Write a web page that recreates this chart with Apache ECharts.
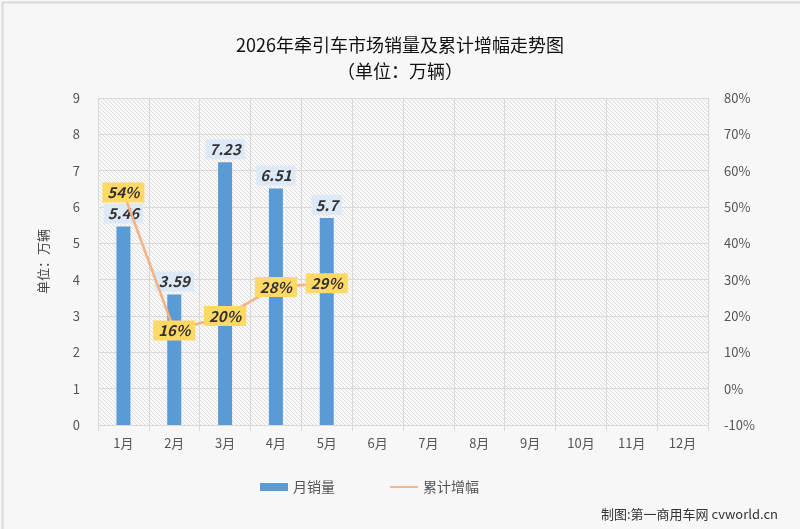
<!DOCTYPE html>
<html>
<head>
<meta charset="utf-8">
<script src="https://cdn.jsdelivr.net/npm/echarts@6/dist/echarts.min.js"></script>
<style>
  html, body { margin: 0; padding: 0; background: #fff; }
  #main { width: 800px; height: 529px; }
</style>
</head>
<body>
<div id="main"></div>
<script>
  const months = ['1月', '2月', '3月', '4月', '5月', '6月', '7月', '8月', '9月', '10月', '11月', '12月']
  const sales = [5.46, 3.59, 7.23, 6.51, 5.7]
  const growth = [54, 16, 20, 28, 29]

  // 斜线底纹
  let pat = document.createElement('canvas')
  pat.width = 4
  pat.height = 4
  let ctx = pat.getContext('2d')
  ctx.fillStyle = '#f9f9f9'
  ctx.fillRect(0, 0, 4, 4)
  ctx.strokeStyle = '#dedede'
  ctx.lineWidth = 1
  ctx.beginPath()
  ctx.moveTo(0, 0); ctx.lineTo(4, 4)
  ctx.moveTo(-2, 2); ctx.lineTo(2, 6)
  ctx.moveTo(2, -2); ctx.lineTo(6, 2)
  ctx.stroke()

  const font = "'Noto Sans CJK SC', 'Open Sans', sans-serif"
  let chart = echarts.init(document.getElementById('main'))
  chart.setOption({
    backgroundColor: '#f7f7f7',
    textStyle: {fontFamily: font},
    title: {
      text: '2026年牵引车市场销量及累计增幅走势图\n（单位：万辆）',
      left: 'center',
      top: 27,
      textStyle: {fontSize: 18, fontWeight: 'normal', color: '#111', lineHeight: 26}
    },
    legend: {
      bottom: 30,
      left: 255,
      itemGap: 55,
      itemWidth: 28,
      itemHeight: 8,
      textStyle: {fontSize: 14, color: '#555'},
      data: [
        {name: '月销量', icon: 'rect'},
        {name: '累计增幅', icon: 'path://M0,0 L30,0 L30,2 L0,2 Z'}
      ]
    },
    graphic: [{
      type: 'text',
      right: 22,
      bottom: 8,
      style: {text: '制图:第一商用车网 cvworld.cn', fontSize: 13, fill: '#333', fontFamily: font}
    }, {
      type: 'rect',
      left: 0, top: 0,
      shape: {width: 799, height: 528},
      style: {fill: 'none', stroke: '#d9d9d9', lineWidth: 2}
    }],
    grid: {left: 98, right: 92, top: 98, bottom: 104},
    xAxis: {
      type: 'category',
      data: months,
      axisLine: {lineStyle: {color: '#d9d9d9'}},
      axisTick: {show: true, length: 6, lineStyle: {color: '#d9d9d9'}},
      axisLabel: {color: '#555', fontSize: 13, margin: 12},
      splitLine: {show: true, lineStyle: {color: '#d9d9d9'}}
    },
    yAxis: [{
      type: 'value',
      min: 0, max: 9, interval: 1,
      name: '单位：万辆',
      nameLocation: 'middle',
      nameGap: 48,
      nameTextStyle: {fontSize: 13, color: '#444'},
      axisLabel: {color: '#555', fontSize: 13, margin: 18},
      axisLine: {show: false},
      splitLine: {lineStyle: {color: '#d9d9d9'}},
      splitArea: {show: true, areaStyle: {color: [{image: pat, repeat: 'repeat'}]}}
    }, {
      type: 'value',
      min: -10, max: 80, interval: 10,
      axisLabel: {color: '#555', fontSize: 13, margin: 16, formatter: '{value}%'},
      axisLine: {show: false},
      splitLine: {show: false}
    }],
    series: [{
      name: '月销量',
      type: 'bar',
      data: sales,
      barWidth: 14,
      itemStyle: {color: '#5b9bd5'},
      z: 2,
      label: {
        show: true,
        position: 'top',
        distance: 3,
        color: '#333',
        fontSize: 15,
        lineHeight: 16,
        fontWeight: 'bold',
        fontStyle: 'italic',
        backgroundColor: '#dde9f6',
        padding: [2, 4]
      }
    }, {
      name: '累计增幅',
      type: 'line',
      yAxisIndex: 1,
      data: growth,
      symbol: 'circle',
      symbolSize: 1,
      showSymbol: true,
      lineStyle: {color: '#f4b183', width: 2.5},
      itemStyle: {color: '#f4b183'},
      z: 3,
      label: {
        show: true,
        position: 'inside',
        formatter: '{c}%',
        color: '#333',
        fontSize: 15,
        lineHeight: 16,
        fontWeight: 'bold',
        fontStyle: 'italic',
        backgroundColor: '#ffd966',
        padding: [2, 5]
      }
    }]
  })
</script>
</body>
</html>
